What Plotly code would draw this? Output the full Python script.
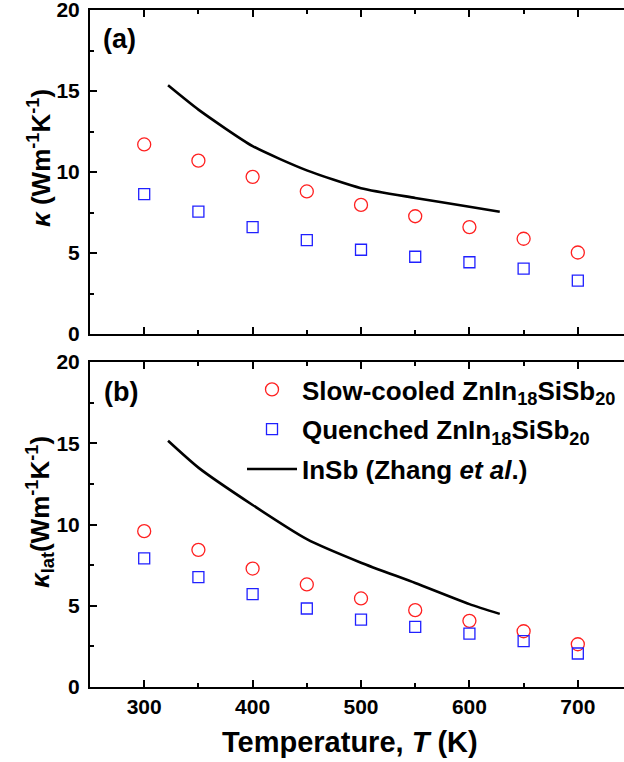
import plotly.graph_objects as go
from plotly.subplots import make_subplots

# Data
T = [300, 350, 400, 450, 500, 550, 600, 650, 700]
kappa_slow = [11.7, 10.7, 9.7, 8.8, 7.97, 7.27, 6.6, 5.88, 5.03]
kappa_quench = [8.64, 7.56, 6.6, 5.8, 5.2, 4.77, 4.43, 4.04, 3.3]
T_insb = [322, 350, 400, 450, 500, 550, 600, 628]
kappa_insb = [15.35, 13.85, 11.6, 10.1, 9.0, 8.4, 7.85, 7.55]

klat_slow = [9.59, 8.44, 7.29, 6.31, 5.45, 4.73, 4.07, 3.43, 2.63]
klat_quench = [7.91, 6.76, 5.71, 4.83, 4.15, 3.7, 3.29, 2.82, 2.06]
klat_insb = [15.15, 13.5, 11.2, 9.1, 7.65, 6.4, 5.1, 4.5]

names = ["Slow-cooled ZnIn<sub>18</sub>SiSb<sub>20</sub>",
         "Quenched ZnIn<sub>18</sub>SiSb<sub>20</sub>",
         "InSb (Zhang <i>et al</i>.)"]

RED = "#FF2020"
BLUE = "#2020FF"

fig = make_subplots(rows=2, cols=1, shared_xaxes=False, vertical_spacing=0.04)

for row, (s, q, l) in enumerate([(kappa_slow, kappa_quench, kappa_insb),
                                  (klat_slow, klat_quench, klat_insb)], start=1):
    show = row == 2
    fig.add_trace(go.Scatter(x=T, y=s, mode="markers", name=names[0], legendgroup="a",
                             showlegend=show,
                             marker=dict(symbol="circle-open", size=13, color=RED,
                                         line=dict(width=1.3, color=RED))), row=row, col=1)
    fig.add_trace(go.Scatter(x=T, y=q, mode="markers", name=names[1], legendgroup="b",
                             showlegend=show,
                             marker=dict(symbol="square-open", size=11, color=BLUE,
                                         line=dict(width=1.3, color=BLUE))), row=row, col=1)
    fig.add_trace(go.Scatter(x=T_insb, y=l, mode="lines", name=names[2], legendgroup="c",
                             showlegend=show, line=dict(color="black", width=2.6,
                                                        shape="spline", smoothing=0.6)),
                  row=row, col=1)

top_dom = [(687 - 334) / 677, 1.0]
bot_dom = [0.0, (687 - 362) / 677]

axis_common = dict(showline=True, linecolor="black", linewidth=2, ticks="inside",
                   tickcolor="black", tickwidth=2, showgrid=False, zeroline=False,
                   tickfont=dict(size=21, color="black"), ticklabeloverflow="allow")

fig.update_xaxes(range=[250, 742.6], dtick=100, tick0=300, ticklen=7, mirror="ticks",
                 minor=dict(ticks="inside", dtick=50, tick0=250, ticklen=4,
                            tickwidth=2, tickcolor="black"),
                 **axis_common)
fig.update_xaxes(showticklabels=False, row=1, col=1)
fig.update_yaxes(range=[0, 20], dtick=5, ticklen=7, mirror=False,
                 minor=dict(ticks="inside", dtick=2.5, ticklen=4,
                            tickwidth=2, tickcolor="black"),
                 ticklabelstandoff=4,
                 **axis_common)
fig.update_yaxes(domain=top_dom, row=1, col=1)
fig.update_yaxes(domain=bot_dom, row=2, col=1)

W, H = 624, 762
L, R, TOP, B = 90, 0, 10, 75
pw, ph = W - L - R, H - TOP - B

def px(x):
    return (x - L) / pw

def py(y):
    return (H - B - y) / ph

annos = [
    dict(text="(a)", x=px(101), y=py(39), xanchor="left", yanchor="middle", font=dict(size=27)),
    dict(text="(b)", x=px(102), y=py(392), xanchor="left", yanchor="middle", font=dict(size=27)),
    dict(text="<i>κ</i> (Wm<sup>-1</sup>K<sup>-1</sup>)", x=px(40), y=py(158), textangle=-90,
         xanchor="center", yanchor="middle", font=dict(size=26)),
    dict(text="<i>κ</i><sub>lat</sub>(Wm<sup>-1</sup>K<sup>-1</sup>)", x=px(40), y=py(512),
         textangle=-90, xanchor="center", yanchor="middle", font=dict(size=26)),
    dict(text="Temperature, <i>T</i> (K)", x=px(350), y=py(742), xanchor="center",
         yanchor="middle", font=dict(size=29)),
]
for a in annos:
    a.update(xref="paper", yref="paper", showarrow=False)
    fig.add_annotation(**a)

fig.update_layout(
    width=W, height=H,
    margin=dict(l=L, r=R, t=TOP, b=B, pad=0, autoexpand=False),
    paper_bgcolor="white", plot_bgcolor="white",
    font=dict(family="Liberation Sans", weight="bold", color="black", size=21),
    legend=dict(x=px(242), y=py(366), xanchor="left", yanchor="top",
                bgcolor="rgba(0,0,0,0)", font=dict(size=26), tracegroupgap=3,
                traceorder="grouped", itemwidth=50),
)

fig.write_html("out.html")
